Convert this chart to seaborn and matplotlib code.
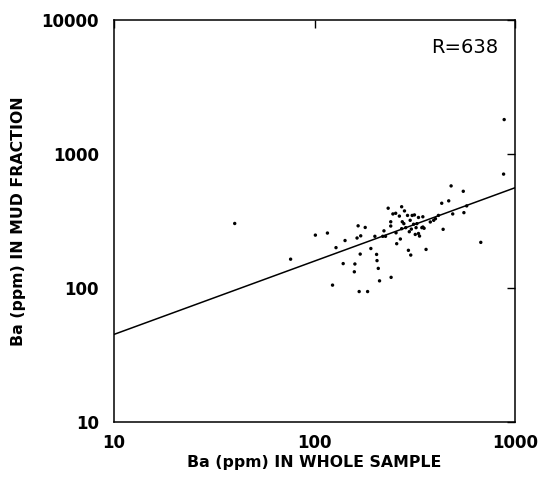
import numpy as np
import pandas as pd
import matplotlib
matplotlib.use('Agg')
import matplotlib.pyplot as plt
import seaborn as sns

# Ba in whole sample (x) vs Ba in mud fraction (y), ppm
ba_whole = [40, 76, 101, 116, 123, 128, 142, 139, 158, 159, 163, 165, 170, 169,
            167, 179, 184, 191, 200, 204, 205, 208, 211, 219, 222, 226, 233, 240,
            241, 246, 240, 254, 255, 257, 265, 268, 272, 274, 279, 281, 272, 285,
            291, 294, 297, 302, 300, 304, 307, 315, 312, 321, 318, 324, 330, 334,
            330, 347, 343, 352, 347, 360, 378, 393, 401, 415, 431, 438, 467, 480,
            489, 552, 556, 574, 675, 877, 883]
ba_mud = [303, 164, 248, 257, 105, 200, 226, 152, 132, 151, 236, 291, 245, 179,
          94, 283, 94, 197, 243, 178, 160, 140, 113, 243, 267, 243, 394, 312,
          120, 357, 290, 361, 258, 214, 344, 232, 404, 312, 302, 376, 277, 282,
          348, 191, 263, 176, 320, 275, 348, 351, 299, 282, 251, 302, 255, 244,
          336, 340, 282, 279, 285, 194, 311, 320, 329, 348, 429, 274, 447, 578,
          357, 527, 365, 410, 219, 708, 1808]

# regression line end points
fit_x = [10, 1000]
fit_y = [45, 560]

df = pd.DataFrame({'whole': ba_whole, 'mud': ba_mud})
fit = pd.DataFrame({'whole': fit_x, 'mud': fit_y})

sns.set_style('white')
plt.rcParams['font.family'] = ['DejaVu Sans']
plt.rcParams['text.color'] = 'black'
plt.rcParams['axes.labelcolor'] = 'black'
plt.rcParams['xtick.color'] = 'black'
plt.rcParams['ytick.color'] = 'black'

fig = plt.figure(figsize=(5.39, 4.90), dpi=100)
ax = fig.add_axes([0.2115, 0.139, 0.744, 0.82])

sns.scatterplot(data=df, x='whole', y='mud', ax=ax, color='black', s=6,
                edgecolor='none', marker='o')
sns.lineplot(data=fit, x='whole', y='mud', ax=ax, color='black', linewidth=1.1)

ax.set_xscale('log')
ax.set_yscale('log')
ax.set_xlim(10, 1000)
ax.set_ylim(10, 10000)

ax.set_xticks([10, 100, 1000])
ax.set_xticklabels(['10', '100', '1000'])
ax.set_yticks([10, 100, 1000, 10000])
ax.set_yticklabels(['10', '100', '1000', '10000'])
ax.minorticks_off()
ax.tick_params(axis='both', which='major', direction='in', length=6, width=1,
               top=True, right=True, labelsize=12, pad=9)
ax.tick_params(axis='y', pad=11)
for lab in ax.get_xticklabels() + ax.get_yticklabels():
    lab.set_fontweight('bold')

for sp in ax.spines.values():
    sp.set_color('black')
    sp.set_linewidth(1.1)

ax.set_xlabel('Ba (ppm) IN WHOLE SAMPLE', fontsize=11.3, fontweight='bold', labelpad=2)
ax.set_ylabel('Ba (ppm) IN MUD FRACTION', fontsize=11.3, fontweight='bold', labelpad=11)

ax.text(0.958, 0.933, 'R=638', transform=ax.transAxes, ha='right', va='center',
        fontsize=14, color='black')

fig.savefig('out.png', dpi=100)
